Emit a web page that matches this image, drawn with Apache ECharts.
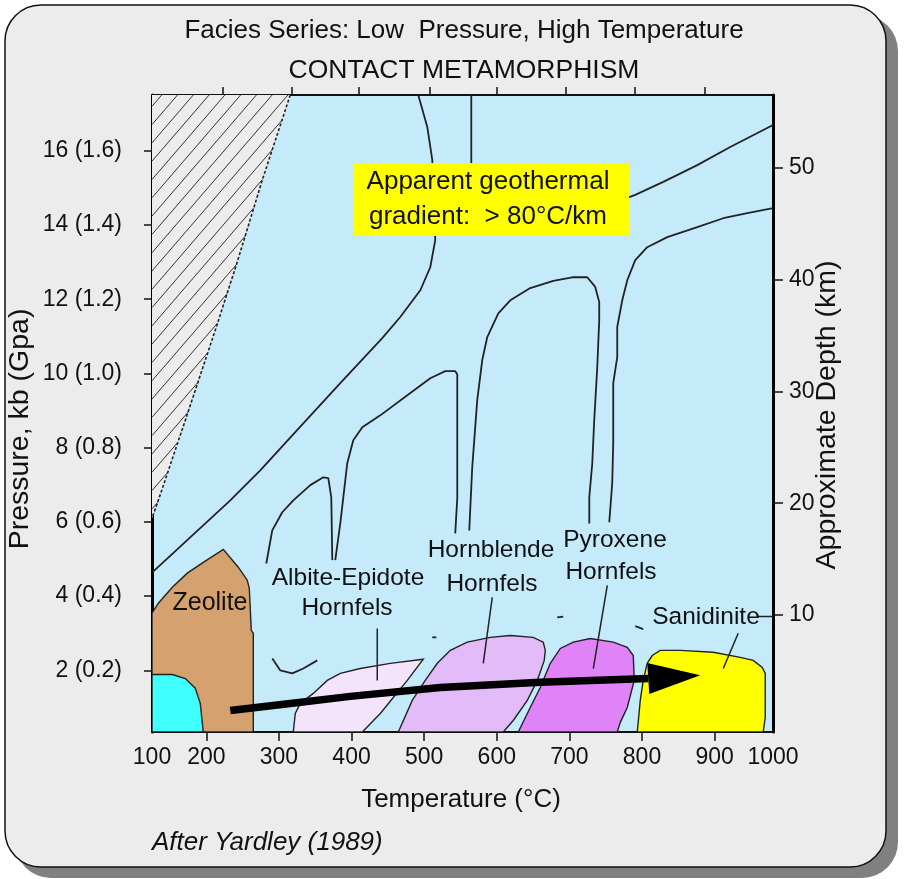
<!DOCTYPE html>
<html><head><meta charset="utf-8">
<script src="https://cdn.jsdelivr.net/npm/echarts@6/dist/echarts.min.js"></script>
<style>html,body{margin:0;padding:0;background:#fff}#c{width:904px;height:879px}</style>
</head><body><div id="c"></div>
<script>
// ---- axes (data units) ----
const tMin = 125.2, tMax = 980.4;          // temperature axis extent (°C)
const pMin = 0.34, pMax = 17.5;            // pressure axis extent (kb)
const dMin = -0.47, dMax = 56.52;          // depth axis extent (km)
const xTickValues = [200, 300, 400, 500, 600, 700, 800, 900];
const xLabelValues = [tMin, 200, 300, 400, 500, 600, 700, 800, 900, tMax];
const xLabelText = ['100', '200', '300', '400', '500', '600', '700', '800', '900', '1000'];
const topTickValues = [222.5, 317.7, 409.5, 507.3, 599.6, 694.7, 789.8, 886.2];
const pTickValues = [2, 4, 6, 8, 10, 12, 14, 16];
const pTickLabels = ['2 (0.2)', '4 (0.4)', '6 (0.6)', '8 (0.8)', '10 (1.0)', '12 (1.2)', '14 (1.4)', '16 (1.6)'];
const depthTickValues = [10, 20, 30, 40, 50];

// ---- regions [T °C, P kb] ----
const hatchRegion = [[125.2,17.5],[315.6,17.5],[277.1,15.21],[241.3,12.92],[212.4,11.17],[171.1,8.74],[133.9,6.58],[125.2,6.10]];
const zeolite = [[125.2,3.54],[133.9,3.81],[153.2,4.24],[173.8,4.62],[195.8,4.91],[223.4,5.26],[244.0,4.78],[256.4,4.43],[259.2,4.21],[261.9,3.08],[264.7,3.00],[264.7,0.34],[125.2,0.34]];
const cyanField = [[125.2,1.89],[153.2,1.89],[171.1,1.78],[184.8,1.52],[191.7,1.11],[195.8,0.34],[125.2,0.34]];
const albite = [[319.8,0.34],[322.5,0.84],[329.4,1.11],[347.3,1.38],[366.6,1.73],[384.5,1.92],[412.0,2.05],[453.3,2.19],[498.8,2.30],[476.8,1.73],[457.5,1.27],[439.6,0.84],[414.8,0.34]];
const hornblende = [[464.4,0.34],[483.6,1.19],[501.5,1.73],[518.1,2.19],[536.0,2.54],[559.4,2.76],[591.0,2.89],[618.6,2.94],[650.2,2.89],[664.0,2.76],[666.8,2.54],[665.4,2.27],[655.8,1.73],[642.0,1.19],[622.7,0.65],[608.9,0.34]];
const pyroxene = [[629.6,0.34],[646.1,1.00],[659.9,1.54],[673.7,2.19],[687.5,2.59],[705.4,2.76],[728.8,2.86],[760.4,2.76],[779.7,2.62],[788.0,2.40],[789.3,1.73],[779.7,1.00],[770.1,0.60],[765.9,0.34]];
const sanidinite = [[793.5,0.34],[797.6,1.19],[801.7,1.73],[807.2,2.19],[814.1,2.40],[825.1,2.54],[852.7,2.54],[898.1,2.49],[935.3,2.35],[953.2,2.27],[965.6,2.08],[969.7,1.92],[969.7,0.73],[966.9,0.34]];

// ---- boundary curves ----
const gradientLine = [[491.9,17.5],[504.3,16.64],[511.2,15.75],[515.3,13.59],[508.4,12.86],[494.7,12.24],[467.1,11.52],[442.3,10.95],[384.5,9.74],[322.5,8.42],[274.3,7.39],[233.0,6.58],[179.3,5.61],[125.6,4.64]];
const albiteUpperA = [[282.6,4.88],[290.8,5.77],[304.6,6.26],[319.8,6.58],[343.2,6.99],[361.1,7.20],[368.0,7.18],[372.1,6.66],[373.5,4.97]];
const albiteUpperB = [[377.6,4.97],[384.5,5.96],[394.1,7.58],[402.4,8.20],[414.8,8.55],[439.6,8.87],[476.8,9.41],[508.4,9.87],[529.1,10.06],[542.8,10.06],[545.6,9.98],[545.6,6.64],[542.8,5.69]];
const hornblendeUpper = [[562.1,5.77],[566.2,7.47],[573.1,9.28],[580.0,10.36],[586.9,10.98],[602.1,11.62],[618.6,11.97],[646.1,12.30],[677.8,12.49],[703.9,12.59],[724.6,12.59],[735.6,12.33],[741.1,11.92],[741.1,11.44],[738.4,10.17],[734.2,8.74],[731.5,7.58],[727.4,6.66],[727.4,5.96]];
const pyroxeneUpper = [[754.9,5.99],[759.0,7.04],[760.4,8.15],[760.4,9.74],[765.9,10.44],[765.9,11.25],[772.8,11.97],[779.7,12.51],[790.7,13.05],[807.2,13.40],[834.8,13.67],[876.1,13.94],[911.9,14.18],[945.0,14.32],[980.4,14.45]];
const upperGeotherm = [[742.5,14.54],[782.4,14.75],[790.7,14.81],[829.3,15.16],[876.1,15.61],[921.5,16.10],[980.4,16.69]];
const verticalGeotherm = [[564.9,17.5],[564.9,15.21]];
const smallCurve = [[290.9,2.32],[301.9,2.00],[318.4,1.92],[333.6,2.05],[352.8,2.27]];
const dashMarks = [[[511.2,2.89],[516.7,2.89]], [[683.3,3.43],[691.5,3.45]], [[790.7,3.19],[801.7,3.11]]];
const leaderLines = [[[435.4,3.13],[435.4,1.73]], [[593.8,3.97],[581.4,2.19]], [[752.2,4.29],[732.9,2.05]], [[932.5,3.00],[911.9,2.05]], [[958.7,3.45],[980.4,3.45]]];
const arrowPath = [[233.0,0.92],[315.6,1.11],[398.3,1.30],[522.2,1.54],[659.9,1.68],[808.6,1.78]];
const arrowTip = [880.2,1.87];

const FONT = '"Liberation Sans", Arial, sans-serif';
const INK = '#111';

function polySeries(pts, fill, z) {
  return {
    type: 'custom', coordinateSystem: 'cartesian2d', silent: true, z: z || 2, clip: true,
    data: [pts[0]],
    renderItem: (params, api) => ({
      type: 'polygon',
      shape: { points: pts.map(p => api.coord(p)) },
      style: { fill: fill, stroke: '#222', lineWidth: 1.4 }
    })
  };
}
function lineSeries(pts, width, color) {
  return {
    type: 'line', data: pts, symbol: 'none', showSymbol: false, silent: true, z: 4, clip: true,
    lineStyle: { width: width || 1.8, color: color || '#222' }
  };
}

const hatchSeries = {
  type: 'custom', coordinateSystem: 'cartesian2d', silent: true, z: 2, clip: true,
  data: [hatchRegion[0]],
  renderItem: (params, api) => {
    const pix = hatchRegion.map(p => api.coord(p));
    const children = [{ type: 'polygon', shape: { points: pix }, style: { fill: '#ececec' } }];
    const k = 1.16, step = 18.3, c0 = 282.6;
    const cs = pix.map(q => k * q[0] + q[1]);
    const cmin = Math.min(...cs), cmax = Math.max(...cs);
    for (let c = c0 + Math.ceil((cmin - c0) / step) * step; c <= cmax; c += step) {
      const xs = [];
      for (let i = 0; i < pix.length; i++) {
        const a = pix[i], b = pix[(i + 1) % pix.length];
        const fa = k * a[0] + a[1] - c, fb = k * b[0] + b[1] - c;
        if ((fa < 0) !== (fb < 0)) {
          const t = fa / (fa - fb);
          xs.push([a[0] + t * (b[0] - a[0]), a[1] + t * (b[1] - a[1])]);
        }
      }
      xs.sort((u, v) => u[0] - v[0]);
      for (let j = 0; j + 1 < xs.length; j += 2) {
        children.push({ type: 'line', shape: { x1: xs[j][0], y1: xs[j][1], x2: xs[j + 1][0], y2: xs[j + 1][1] },
          style: { stroke: '#333', lineWidth: 1 } });
      }
    }
    children.push({ type: 'polyline', shape: { points: pix.slice(1) },
      style: { stroke: '#222', lineWidth: 1.6, lineDash: [3, 2], fill: null } });
    return { type: 'group', children };
  }
};

const arrowHead = {
  type: 'custom', coordinateSystem: 'cartesian2d', silent: true, z: 6, clip: true,
  data: [arrowTip],
  renderItem: (params, api) => {
    const b = api.coord(arrowPath[arrowPath.length - 1]);
    const t = api.coord(arrowTip);
    const dx = t[0] - b[0], dy = t[1] - b[1], L = Math.hypot(dx, dy);
    const nx = -dy / L, ny = dx / L, hw = 15.5;
    return { type: 'polygon', shape: { points: [t, [b[0] + nx * hw, b[1] + ny * hw], [b[0] - nx * hw, b[1] - ny * hw]] },
      style: { fill: '#000' } };
  }
};

const series = [
  hatchSeries,
  polySeries(zeolite, '#d4a16f'),
  polySeries(cyanField, '#40ffff', 3),
  polySeries(albite, '#f4e4fb'),
  polySeries(hornblende, '#e2bbf8'),
  polySeries(pyroxene, '#e183f8'),
  polySeries(sanidinite, '#ffff00'),
  lineSeries(gradientLine),
  lineSeries(albiteUpperA),
  lineSeries(albiteUpperB),
  lineSeries(hornblendeUpper),
  lineSeries(pyroxeneUpper),
  lineSeries(upperGeotherm),
  lineSeries(verticalGeotherm),
  lineSeries(smallCurve),
  ...dashMarks.map(d => lineSeries(d)),
  ...leaderLines.map(d => lineSeries(d, 1.5)),
  Object.assign(lineSeries(arrowPath, 7.5, '#000'), { z: 6 }),
  arrowHead
];

function txt(text, x, y, size, extra) {
  extra = extra || {};
  return { type: 'text', x: x, y: y, z: 120, rotation: extra.rotation || 0,
    style: Object.assign({ text: text, font: size + 'px ' + FONT, fill: INK, align: 'center', verticalAlign: 'middle' }, extra.style || {}) };
}

const graphic = [
  { type: 'rect', z: -20, shape: { x: 15, y: 15, width: 883, height: 863, r: 36 }, style: { fill: '#808080' } },
  { type: 'rect', z: -19, shape: { x: 5, y: 5, width: 881, height: 862, r: 36 }, style: { fill: '#ececec', stroke: '#111', lineWidth: 1.5 } },
  txt('Facies Series: Low  Pressure, High Temperature', 464, 31, 26),
  txt('CONTACT METAMORPHISM', 464, 71, 26.5),
  txt('Temperature (°C)', 461, 800, 26),
  txt('After Yardley (1989)', 152, 843, 26, { style: { font: 'italic 26px ' + FONT, align: 'left' } }),
  txt('Pressure, kb (Gpa)', 20, 429, 28.5, { rotation: Math.PI / 2 }),
  txt('Approximate Depth (km)', 827, 415, 28.5, { rotation: Math.PI / 2 }),
  { type: 'rect', z: 110, shape: { x: 354, y: 163, width: 275, height: 73 }, style: { fill: '#ffff00' } },
  txt('Apparent geothermal', 488, 182, 26),
  txt('gradient:  > 80°C/km', 488, 217, 26),
  txt('Zeolite', 210, 603, 25),
  txt('Albite-Epidote', 348, 578, 24.5),
  txt('Hornfels', 347, 608, 24.5),
  txt('Hornblende', 491, 550, 24.5),
  txt('Hornfels', 492, 584, 24.5),
  txt('Pyroxene', 615, 540, 24.5),
  txt('Hornfels', 611, 572, 24.5),
  txt('Sanidinite', 706, 617, 24.5)
];

const axisLabelStyle = { color: INK, fontSize: 23, fontFamily: FONT };
const option = {
  animation: false,
  backgroundColor: '#ffffff',
  grid: { left: 152, top: 95, width: 621, height: 637, show: true, backgroundColor: '#c5ebfb', borderWidth: 0 },
  xAxis: [
    { type: 'value', position: 'bottom', min: tMin, max: tMax, splitLine: { show: false },
      axisLine: { show: true, onZero: false, lineStyle: { color: '#111', width: 2 } },
      axisTick: { show: true, length: 9, customValues: xTickValues, lineStyle: { color: '#111', width: 1.5 } },
      axisLabel: Object.assign({ margin: 14, customValues: xLabelValues, showMinLabel: true, showMaxLabel: true,
        formatter: v => { const i = xLabelValues.findIndex(u => Math.abs(u - v) < 1e-6); return i >= 0 ? xLabelText[i] : ''; } }, axisLabelStyle) },
    { type: 'value', position: 'top', min: tMin, max: tMax, splitLine: { show: false },
      axisLine: { show: true, onZero: false, lineStyle: { color: '#111', width: 2 } },
      axisTick: { show: true, length: 8, customValues: topTickValues, lineStyle: { color: '#111', width: 1.5 } },
      axisLabel: { show: false } }
  ],
  yAxis: [
    { type: 'value', position: 'left', min: pMin, max: pMax, splitLine: { show: false },
      axisLine: { show: true, onZero: false, lineStyle: { color: '#000', width: 3 } },
      axisTick: { show: true, length: 8, customValues: pTickValues, lineStyle: { color: '#111', width: 1.5 } },
      axisLabel: Object.assign({ margin: 30, customValues: pTickValues,
        formatter: v => { const i = pTickValues.indexOf(v); return i >= 0 ? pTickLabels[i] : ''; } }, axisLabelStyle) },
    { type: 'value', position: 'right', min: dMin, max: dMax, splitLine: { show: false },
      axisLine: { show: true, onZero: false, lineStyle: { color: '#000', width: 3 } },
      axisTick: { show: true, length: 10, customValues: depthTickValues, lineStyle: { color: '#111', width: 1.5 } },
      axisLabel: Object.assign({ margin: 16, customValues: depthTickValues }, axisLabelStyle) }
  ],
  graphic: graphic,
  series: series
};
const chart = echarts.init(document.getElementById('c'), null, { renderer: 'canvas' });
chart.setOption(option);
</script></body></html>
